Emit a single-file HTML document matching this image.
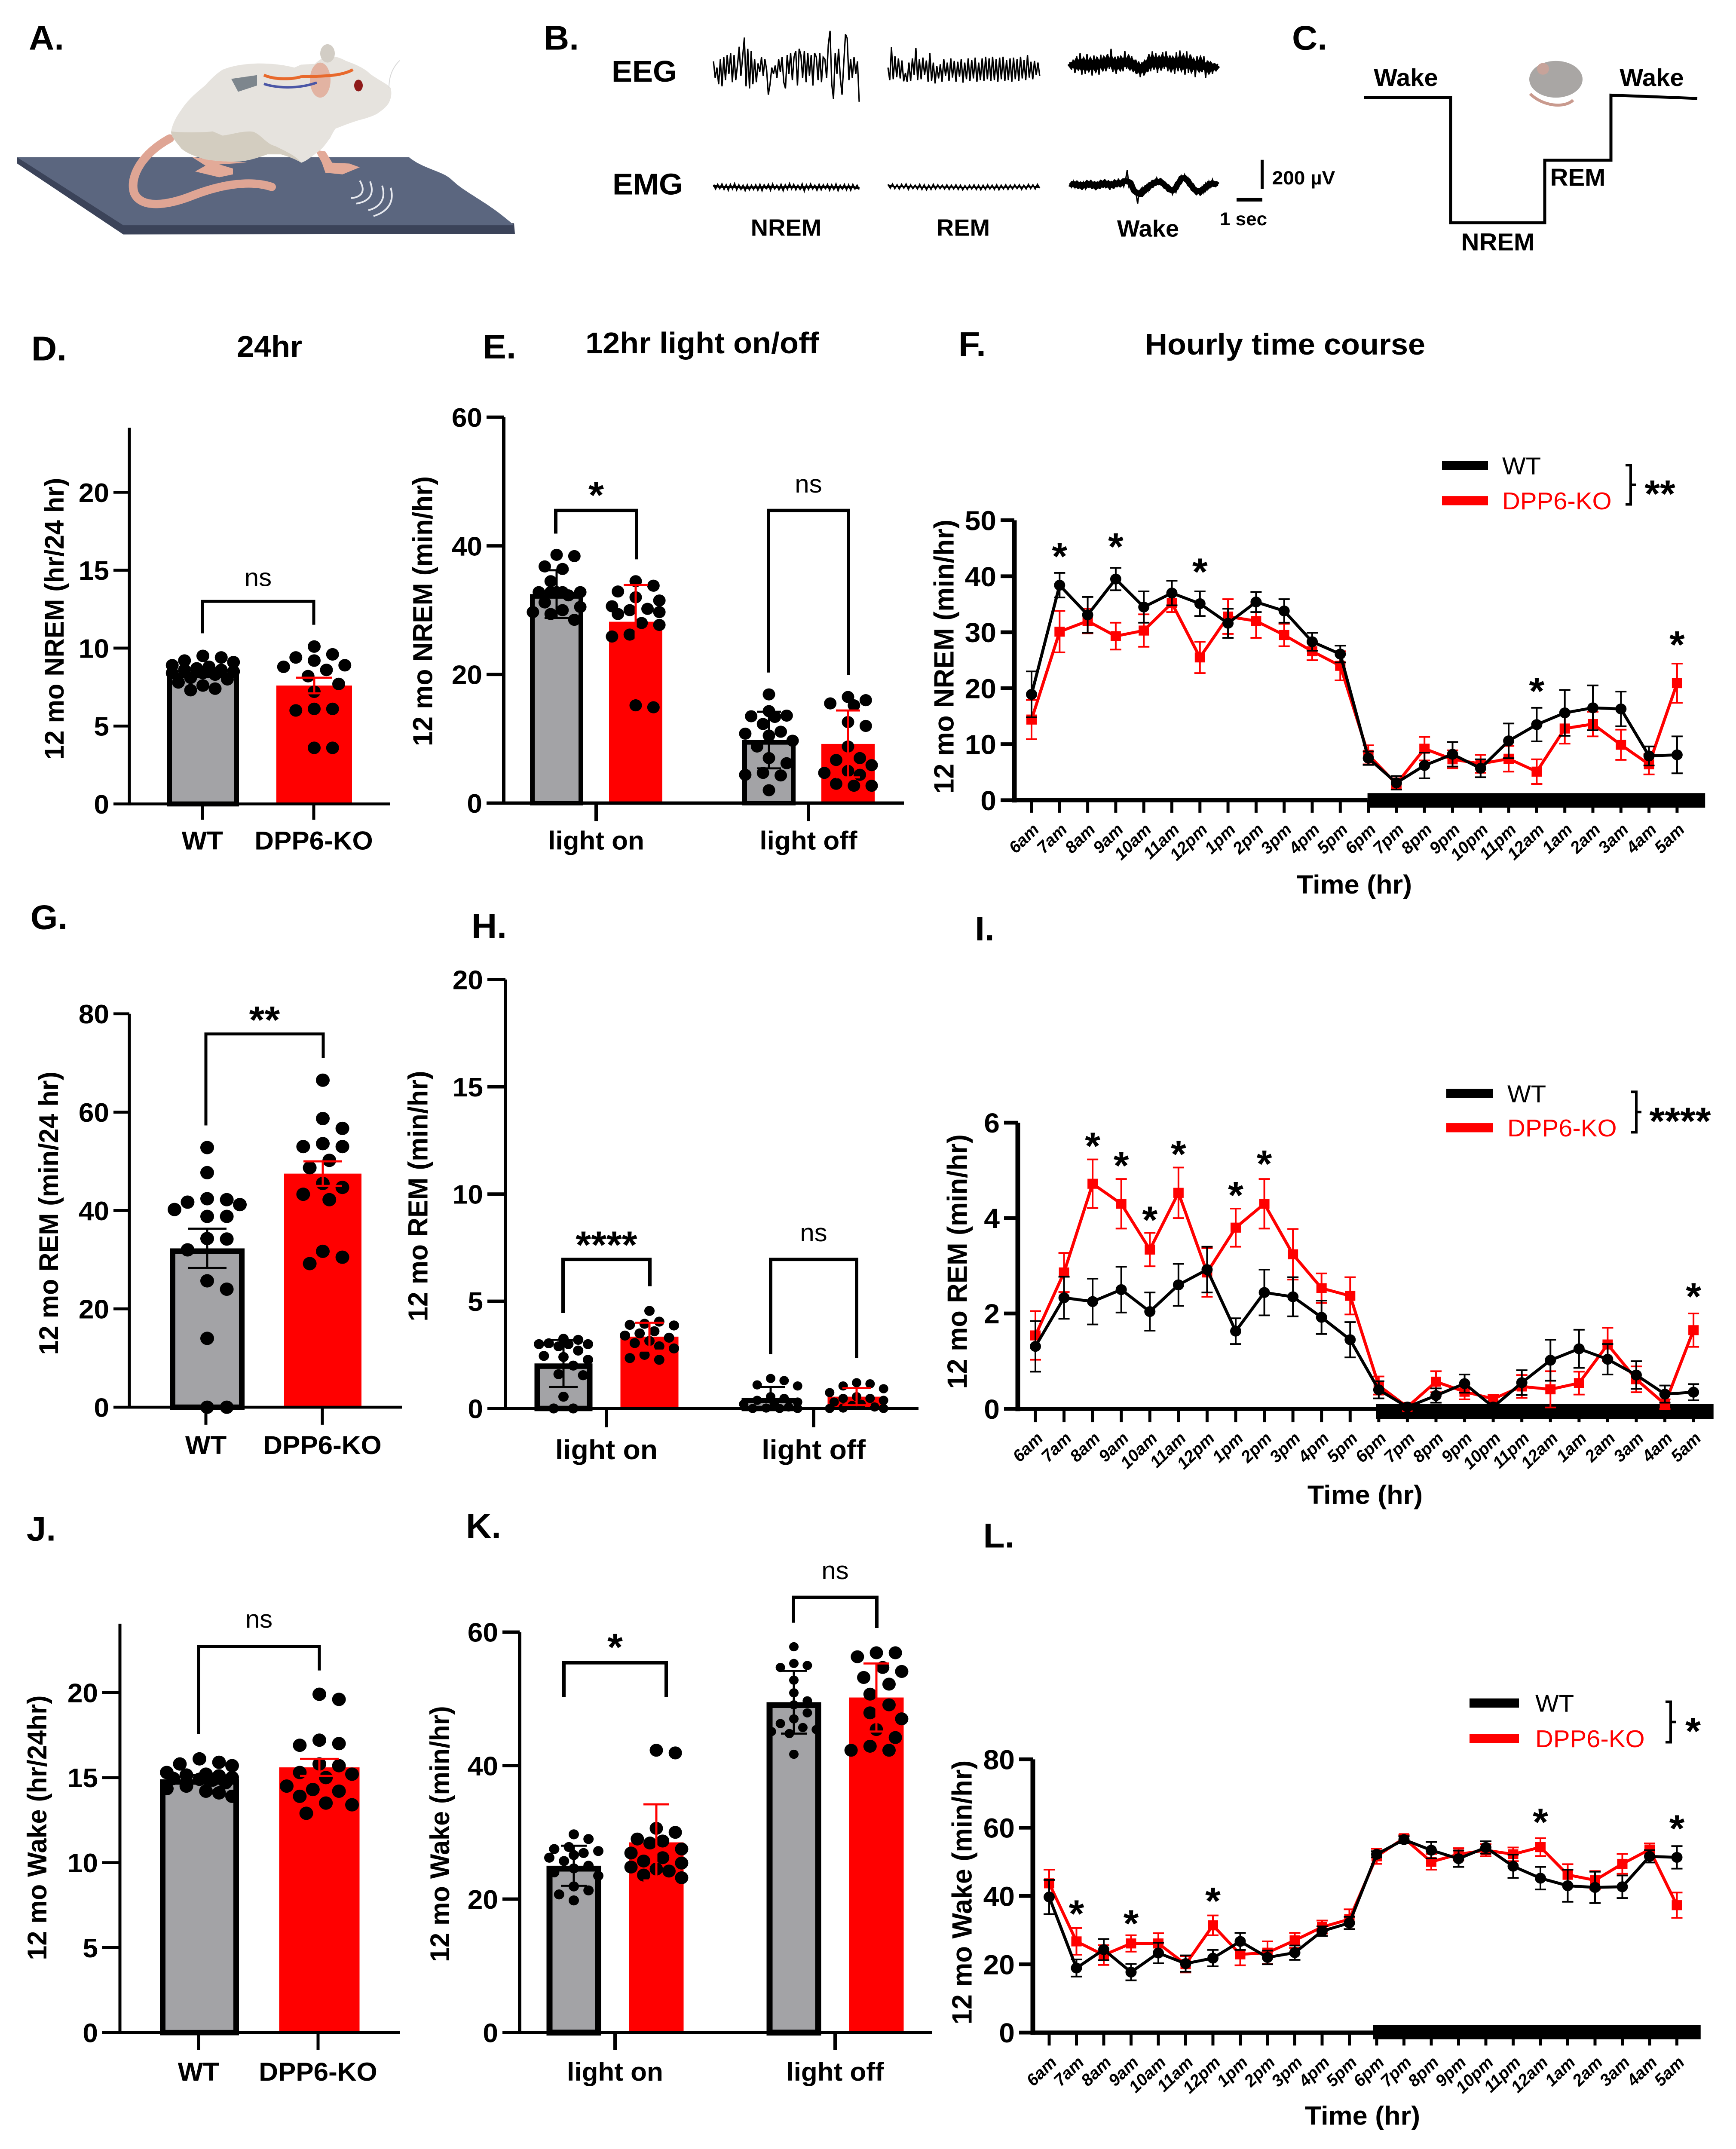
<!DOCTYPE html>
<html lang="en">
<head>
<meta charset="utf-8">
<title>DPP6-KO sleep figure</title>
<style>
html,body{margin:0;padding:0;background:#fff;width:100vw;height:100vh;overflow:hidden;}
#figure{display:block;width:100vw;height:100vh;background:#fff;font-family:"Liberation Sans",sans-serif;}
text{font-family:"Liberation Sans",sans-serif;fill:#000;}
.b{font-weight:bold;}
</style>
</head>
<body>
<svg id="figure" xmlns="http://www.w3.org/2000/svg" viewBox="0 0 4039 5151" preserveAspectRatio="none">
  <rect x="0" y="0" width="4039" height="5151" fill="#fff"/>

  <g font-size="82" font-weight="bold" text-anchor="middle">
    <text class="b" x="108" y="119">A.</text>
    <text class="b" x="1306" y="119">B.</text>
    <text class="b" x="3047" y="119">C.</text>
    <text class="b" x="114" y="864">D.</text>
    <text class="b" x="1162" y="859">E.</text>
    <text class="b" x="2262" y="853">F.</text>
    <text class="b" x="114" y="2227">G.</text>
    <text class="b" x="1138" y="2248">H.</text>
    <text class="b" x="2291" y="2254">I.</text>
    <text class="b" x="96" y="3693">J.</text>
    <text class="b" x="1125" y="3686">K.</text>
    <text class="b" x="2324" y="3709">L.</text>
  </g>

  <g font-size="72" font-weight="bold" text-anchor="middle">
    <text class="b" x="627" y="855">24hr</text>
    <text class="b" x="1634" y="847">12hr light on/off</text>
    <text class="b" x="2990" y="850">Hourly time course</text>
  </g>

  <g>
    <path d="M40 377 L40 392 L287 562 L1198 561 L1196 535 L287 535 Z" fill="#3b4359"/>
    <path d="M40 377 L952 377 C985 405 1030 410 1050 430 C1085 465 1130 480 1196 540 L287 540 Z" fill="#5b667f"/>
    <path d="M395 332 C335 365 300 420 312 462 C328 502 392 492 450 468 C510 444 580 430 632 448" fill="none" stroke="#dfa594" stroke-width="20" stroke-linecap="round"/>
    <path d="M446 376 L478 397 L454 411 L510 425 L542 418 L542 404 L510 394 L574 390 L494 383 Z" fill="#e3aa98"/>
    <path d="M733 359 L749 390 L757 414 L797 418 L837 401 L813 392 L773 390 L757 363 Z" fill="#e3aa98"/>
    <path d="M582 153 C620 150 660 155 685 162 L700 155 L733 153 C760 125 785 135 805 146 C830 155 850 165 861 177 C885 195 900 200 909 211 C912 225 910 235 905 246 C898 258 888 265 877 273 C860 282 845 285 829 290 C805 298 790 305 781 308 C772 320 770 330 765 335 C755 350 748 358 741 363 C725 375 715 385 701 390 C685 380 670 375 654 370 L622 370 C600 378 580 385 558 387 C530 388 500 386 478 382 C455 375 435 368 422 356 C405 335 398 325 398 315 C402 295 410 280 422 263 C440 235 460 220 478 204 C490 190 505 175 518 167 C540 158 560 155 582 153 Z" fill="#e6e3de"/>
    <path d="M398 315 C420 318 470 318 495 315 L518 325 C540 322 570 312 590 316 C610 325 620 345 640 350 C670 365 690 375 701 390 C685 380 670 375 654 370 L622 370 C600 378 580 385 558 387 C530 388 500 386 478 382 C455 375 435 368 422 356 C405 335 398 325 398 315 Z" fill="#d3cdc0"/>
    <ellipse cx="762" cy="128" rx="17" ry="22" fill="#d2cdc5"/>
    <ellipse cx="745" cy="192" rx="24" ry="42" fill="#e2b3a2"/>
    <ellipse cx="834" cy="205" rx="10" ry="14" fill="#8e1a1a"/>
    <polygon points="538,189 598,180 598,205 554,220" fill="#7d868d"/>
    <path d="M614 180 C640 192 680 190 700 184 C740 182 790 185 821 167" fill="none" stroke="#e8692c" stroke-width="7"/>
    <path d="M614 201 C640 210 690 215 737 198" fill="none" stroke="#4a56a6" stroke-width="6"/>
    <path d="M905 210 C905 180 915 160 930 145" fill="none" stroke="#d8d8d8" stroke-width="2"/>
    <path d="M837 433 C850 455 845 472 817 475" fill="none" stroke="#e6e8ee" stroke-width="4"/>
    <path d="M861 435 C872 465 860 483 829 488" fill="none" stroke="#e6e8ee" stroke-width="4"/>
    <path d="M889 445 C900 480 880 498 857 504" fill="none" stroke="#e6e8ee" stroke-width="4"/>
    <path d="M909 450 C920 490 895 510 869 518" fill="none" stroke="#e6e8ee" stroke-width="4"/>
  </g>

  <g id="panel-b">
    <text class="b" x="1499" y="196" font-size="72" text-anchor="middle">EEG</text>
    <text class="b" x="1507" y="466" font-size="72" text-anchor="middle">EMG</text>
    <text class="b" x="1829" y="565" font-size="56" text-anchor="middle">NREM</text>
    <text class="b" x="2241" y="565" font-size="56" text-anchor="middle">REM</text>
    <text class="b" x="2671" y="567" font-size="56" text-anchor="middle">Wake</text>
    <rect x="2933" y="383" width="7" height="70" fill="#000"/>
    <rect x="2877" y="474" width="60" height="9" fill="#000"/>
    <text class="b" x="3033" y="442" font-size="46" text-anchor="middle">200 µV</text>
    <text class="b" x="2893" y="540" font-size="44" text-anchor="middle">1 sec</text>
  </g>

  <g>
    <polyline points="3174,234 3375,234 3375,534 3594,534 3594,384 3748,384 3748,228 3949,236" fill="none" stroke="#000" stroke-width="7"/>
    <text class="b" x="3271" y="206" font-size="58" text-anchor="middle">Wake</text>
    <text class="b" x="3843" y="206" font-size="58" text-anchor="middle">Wake</text>
    <text class="b" x="3671" y="445" font-size="58" text-anchor="middle">REM</text>
    <text class="b" x="3485" y="600" font-size="58" text-anchor="middle">NREM</text>
    <g>
      <path d="M3560 225 C3590 255 3640 260 3660 240" fill="none" stroke="#c99a8e" stroke-width="7"/>
      <ellipse cx="3620" cy="190" rx="62" ry="44" fill="#a9a6a4"/>
      <circle cx="3590" cy="165" r="14" fill="#c7a39a"/>
    </g>
  </g>

  <g id="charts"></g>
</svg>

<script>
/* ---------- Panel B sample amplitudes ---------- */
const eegNremSamples = [-20,20,-5,35,-25,40,-30,25,-35,10,-40,30,-35,25,-10,-55,15,-30,-77,40,-50,45,-45,35,-25,30,-15,5,-30,15,-25,0,60,35,-5,10,-10,20,-25,5,-30,30,45,-35,10,-40,25,-30,-45,38,-50,-35,20,-45,30,-40,15,-35,38,-40,-30,25,-40,30,-30,-25,20,-60,-93,35,70,-40,10,-50,20,60,-15,-85,-75,25,-25,20,-30,10,-20,77];
const eegRemSamples = [-8,22,-57,20,-35,15,-30,18,-25,25,5,26,-20,24,-30,10,-55,22,-28,20,-32,10,-25,26,-43,24,-20,30,-12,18,-16,26,-28,12,-20,24,-30,16,-24,26,-22,14,-28,28,-20,20,-30,24,-26,18,-32,26,-20,22,-30,24,-34,20,-30,24,-34,22,-28,26,-32,20,-34,24,-26,22,-30,26,-32,20,-28,24,-34,18,-26,22,-38,16,-22,20,-24,10,-20,12];
const eegWakeSamples = [-8,10,-14,18,-22,12,-30,22,-16,20,-28,14,-18,24,-24,12,-20,22,-26,10,-18,14,-28,8,-40,16,-14,20,-22,10,-18,14,-35,8,-24,12,-22,16,-14,20,-10,28,-8,24,-12,16,-28,14,-34,10,-30,18,-22,12,-32,8,-34,14,-24,10,-18,20,-32,14,-36,12,-20,22,-34,18,-26,12,-18,28,-22,10,-16,16,-22,30,-12,12,-8,20,-6,14,-4];
const emgNremSamples = [-5,5,-6,4,-7,6,-5,8,-6,5,-8,7,-5,6,-4,9,-5,7,-4,6,-5,8,-6,9,-5,4,-6,8,-7,5,-4,7,-6,9,-5,6,-8,5,-6,7,-4,6,-7,10,-5,6,-7,5,-4,8,-6,7,-5,4,-6,8,-5,6,-7,9,-4,5,-6,7,-5,8,-6,5,-4,6];
const emgRemSamples = [-5,4,-6,5,-4,6,-5,4,-6,7,-4,5,-3,6,-5,7,-4,8,-3,7,-5,6,-4,5,-3,6,-4,7,-3,6,-4,7,-3,8,-2,7,-3,6,-4,7,-3,8,-3,7,-4,6,-3,7,-4,8,-3,6,-4,7,-3,6,-4,5,-4,7,-3,6,-5,5,-4,6,-5,4];
const emgWakeSamples = [-4,5,-8,6,-10,8,-6,12,-5,8,-10,4,-12,9,-4,12,-8,10,-11,6,-14,5,-9,12,-7,9,-12,3,-15,6,-8,4,-10,-35,4,-3,10,2,18,45,12,26,8,20,2,14,-6,8,-12,2,-16,-4,-12,-2,-8,4,8,14,6,22,10,18,-2,-14,-22,-12,-24,-8,-16,-2,4,14,8,22,12,26,6,18,-2,10,-8,4,-12,2,-6,3];

/* ---------- Shared labels ---------- */
const barCategories = ['WT', 'DPP6-KO'];
const lightCategories = ['light on', 'light off'];
const seriesNames = ['WT', 'DPP6-KO'];
const hourLabels = ['6am','7am','8am','9am','10am','11am','12pm','1pm','2pm','3pm','4pm','5pm','6pm','7pm','8pm','9pm','10pm','11pm','12am','1am','2am','3am','4am','5am'];

/* ---------- Panel D ---------- */
const dYTicks = [0,5,10,15,20];
const dMeans = [8.4,7.6];
const dErrors = [0.2,0.5];
const dDotsWT = [9.5,9.4,9.2,9.1,8.9,8.8,8.7,8.6,8.6,8.5,8.4,8.4,8.3,8.1,8.0,7.8,7.6,7.4,7.3];
const dDotsKO = [10.1,9.6,9.4,9.2,8.9,8.8,8.6,8.2,7.7,7.2,6.1,6.1,6.0,3.6,3.6];
const dBracketLevels = [13,10.95,11.5];
const dBracketLabelLevel = 14.4;

/* ---------- Panel E ---------- */
const eYTicks = [0,20,40,60];
const eMeansWT = [32.5,9.8];
const eMeansKO = [28.2,9.2];
const eErrorsWT = [3.7,4.4];
const eErrorsKO = [5.7,5.2];
const eDotsWTOn = [38.6,38.4,36.8,36.4,34.5,32.8,32.8,32.8,32.8,32.8,32.3,31.2,30.5,30,29.7,29.4,28.5];
const eDotsKOOn = [34.5,33.8,32.9,32,31.5,30.6,30.2,30,29.7,29.4,28,27.7,26.2,25.9,15.2,14.9];
const eDotsWTOff = [16.9,14.3,13.6,13.5,13.4,12.3,11.1,10.8,10.5,9.7,8.8,7,6.2,4.7,4.4,4.3,2];
const eDotsKOOff = [16.5,16,15.5,15.2,12.6,12,8.8,7,6.7,5.9,5,4.7,4.4,3,2.7,2.7];
const eBracketLevels = [[45.5,41.9,37.9],[45.5,20.3,19.9]];
const eBracketLabelLevels = [49.3,49.3];

/* ---------- Panel F ---------- */
const fYTicks = [0,10,20,30,40,50];
const fWtMeans = [18.9,38.4,33.1,39.5,34.5,37,35.1,31.6,35.4,33.8,28.3,26.1,7.5,3.1,6.2,8.2,5.7,10.6,13.5,15.6,16.5,16.3,7.9,8.1];
const fWtErrors = [4.1,2.2,3.2,2,2.8,2.2,2.2,2.6,1.8,2.1,1.6,1.5,1.2,1.2,2.3,2.2,1.6,3.1,3,4.1,4,3.1,1.7,3.3];
const fKoMeans = [14.4,30.1,32,29.3,30.3,35.2,25.5,32.8,32,29.5,26.6,24,8.1,2.9,9.2,7.3,6.5,7.4,5.1,12.8,13.6,9.9,6.4,20.9];
const fKoErrors = [3.5,3.7,2.2,2.4,2.9,1.6,2.8,3.1,3,2,1.6,2.6,1.7,1,2.1,1.6,1.6,2.3,2.2,2.7,2.2,2.7,1.8,3.5];
const fStarHours = [1,3,6,18,23];
const fStarLevels = [45.2,46.9,42.4,21.1,29.4];

/* ---------- Panel G ---------- */
const gYTicks = [0,20,40,60,80];
const gMeans = [32.3,47.5];
const gErrors = [4,2.5];
const gDotsWT = [52.8,47.7,42.4,42.2,41.7,41.2,40.2,38.8,38.8,34.3,34.2,32,25.7,24,14,0,0];
const gDotsKO = [66.5,58.7,56.7,53.6,53,53,50.2,48.7,45.5,44.7,43.3,42.2,31.7,30.5,29.2];
const gBracketLevels = [75.9,57.3,71];
const gBracketLabelLevel = 80.6;

/* ---------- Panel H ---------- */
const hYTicks = [0,5,10,15,20];
const hMeansWT = [2.1,0.5];
const hMeansKO = [3.35,0.55];
const hErrorsWT = [1.1,0.5];
const hErrorsKO = [0.65,0.4];
const hDotsWTOn = [3.25,3.2,3.04,3,3,3,2.9,2.7,2.45,2.4,2.27,2,1.6,1.55,0.55,0,0];
const hDotsKOOn = [4.55,4.05,3.95,3.9,3.87,3.6,3.5,3.4,3.3,3.15,3.05,2.9,2.8,2.5,2.35,2.27];
const hDotsWTOff = [1.4,1.3,1.1,1.05,0.55,0.47,0.38,0.3,0.2,0.1,0.07,0.02,0,0,0];
const hDotsKOOff = [1.2,1.15,1.05,0.92,0.74,0.55,0.47,0.47,0.38,0.3,0.2,0.14,0.07,0.02,0,0];
const hBracketLevels = [[6.95,4.45,5.7],[6.95,2.53,2.35]];
const hBracketLabelLevels = [8.05,8.1];

/* ---------- Panel I ---------- */
const iYTicks = [0,2,4,6];
const iWtMeans = [1.31,2.33,2.25,2.5,2.04,2.6,2.92,1.63,2.44,2.35,1.92,1.45,0.4,0.04,0.28,0.53,0.04,0.55,1.02,1.26,1.04,0.71,0.31,0.35];
const iWtErrors = [0.53,0.44,0.48,0.48,0.4,0.44,0.48,0.27,0.48,0.41,0.35,0.37,0.18,0.05,0.15,0.19,0.05,0.26,0.43,0.4,0.32,0.29,0.18,0.17];
const iKoMeans = [1.54,2.86,4.72,4.3,3.34,4.53,2.86,3.8,4.3,3.24,2.53,2.37,0.49,0.04,0.57,0.36,0.21,0.47,0.41,0.54,1.35,0.62,0.1,1.65];
const iKoErrors = [0.51,0.41,0.51,0.52,0.35,0.53,0.51,0.4,0.52,0.53,0.31,0.39,0.19,0.05,0.22,0.16,0.08,0.24,0.38,0.24,0.35,0.27,0.1,0.35];
const iStarHours = [2,3,4,5,7,8,23];
const iStarLevels = [5.7,5.29,4.15,5.53,4.67,5.33,2.55];

/* ---------- Panel J ---------- */
const jYTicks = [0,5,10,15,20];
const jMeans = [14.9,15.6];
const jErrors = [0.25,0.5];
const jDotsWT = [16.1,15.9,15.8,15.7,15.3,15.2,15.15,15.1,15,14.95,14.9,14.85,14.7,14.5,14.35,14.2,14.1,13.9];
const jDotsKO = [19.9,19.6,17.2,17,16.9,15.8,15.7,15.3,15.2,15,14.5,14.3,14.2,13.9,13.5,13.4,12.9];
const jBracketLevels = [22.7,17.55,21.3];
const jBracketLabelLevel = 24.2;

/* ---------- Panel K ---------- */
const kYTicks = [0,20,40,60];
const kMeansWT = [25,49.5];
const kMeansKO = [28.5,50.2];
const kErrorsWT = [3,4.7];
const kErrorsKO = [5.7,5.1];
const kDotsWTOn = [29.7,29,27.8,27.5,27.2,26.9,26.6,26.2,25.7,25,24.6,24,23.5,21.9,21.3,20.7,19.8];
const kDotsKOOn = [42.3,41.9,30.6,30,29,28.7,28.4,27.5,26.9,26.2,25.7,25.4,24.8,24.5,24.2,23.6,23.2];
const kDotsWTOff = [57.8,55.3,55,54.7,52.8,50.9,49.7,49.1,47.9,47,46.3,45.7,45.4,45.1,44.8,41.7];
const kDotsKOOff = [56.9,56.9,56.3,54.7,54.1,53.2,52.2,50.7,49.1,47.9,47,45.4,44.2,42.9,42.3,42.3];
const kBracketLevels = [[55.4,50.3,50.3],[65.2,61.4,60.6]];
const kBracketLabelLevels = [59.1,68.9];

/* ---------- Panel L ---------- */
const lYTicks = [0,20,40,60,80];
const lWtMeans = [39.7,18.9,24.3,17.7,23.3,20.2,21.8,26.7,22,23.4,29.7,32.1,52.2,56.5,53.4,50.9,54.2,48.7,45.2,43,42.5,42.7,51.6,51.3];
const lWtErrors = [5,2.5,3.1,2.4,3,2.4,2.4,2.5,2,2.1,1.4,1.8,0.9,1,2.4,2.4,1.8,3.4,3.3,4.7,4.6,3.3,1.8,3.3];
const lKoMeans = [43.7,26.7,22.7,26.1,26.1,20,31.4,22.9,23.4,27,30.9,33.2,51.6,56.9,50,52.2,53.4,52.2,54.3,46.2,44.6,49.4,53.6,37.3];
const lKoErrors = [4,3.9,2.9,2.4,3,2.4,2.9,3.2,3.3,2.2,1.9,2.9,2.2,0.9,2.3,1.8,1.8,2,2.6,3.1,2.7,2.9,1.8,3.7];
const lStarHours = [1,3,6,18,23];
const lStarLevels = [37.5,34.6,41.2,64.3,62.4];

/* ---------- Helpers ---------- */
const NS = 'http://www.w3.org/2000/svg';
const chartsRoot = document.getElementById('charts');
const GRAY = '#a3a3a6';
const RED = '#ff0000';

function mk(parent, tag, attrs, text) {
  const node = document.createElementNS(NS, tag);
  for (const k in attrs) node.setAttribute(k, attrs[k]);
  if (text !== undefined) node.textContent = text;
  parent.appendChild(node);
  return node;
}

function linearAxis(zeroPx, refPx, refValue) {
  const perUnit = (zeroPx - refPx) / refValue;
  return function (v) { return zeroPx - v * perUnit; };
}

function centeredText(parent, name, x, yCenter, str, size, bold, color, anchor) {
  const t = mk(parent, 'text', {x: x, y: yCenter + size * 0.36, 'font-size': size, 'text-anchor': anchor || 'middle', 'font-weight': bold ? 'bold' : 'normal', style: 'fill:' + (color || '#000')}, str);
  
  
  return t;
}

function starText(parent, name, x, yCenter, str, size) {
  const t = mk(parent, 'text', {x: x, y: yCenter + size * 0.58, 'font-size': size, 'text-anchor': 'middle', 'font-weight': 'bold'}, str);
  
  
  return t;
}

function yAxisTitle(parent, x, yCenter, str, size) {
  const t = mk(parent, 'text', {x: x, y: yCenter, 'font-size': size, 'font-weight': 'bold', 'text-anchor': 'middle', transform: 'rotate(-90 ' + x + ' ' + yCenter + ')', 'dominant-baseline': 'central'}, str);
  
  
}

function drawYAxis(parent, o) {
  const axis = mk(parent, 'line', {x1: o.axisX, x2: o.axisX, y1: o.y(o.axisTop), y2: o.y(0) + o.lw / 2, stroke: '#000', 'stroke-width': o.lw});
  
  
  o.ticks.forEach(function (v) {
    const tick = mk(parent, 'line', {x1: o.tickLeft, x2: o.axisX, y1: o.y(v), y2: o.y(v), stroke: '#000', 'stroke-width': o.tlw});
    
    
    centeredText(parent, 'y-tick-label-' + v, o.tickLeft - 10, o.y(v), String(v), o.fs, true, '#000', 'end');
  });
}

function swarm(values, y, r, maxOff, spread) {
  const order = values.map(function (v, i) { return i; }).sort(function (a, b) { return values[b] - values[a]; });
  const placed = [];
  const result = new Array(values.length);
  order.forEach(function (idx) {
    const py = y(values[idx]);
    let best = 0, bestScore = -1;
    for (let k = 0; k < 40; k++) {
      const mag = Math.ceil(k / 2) * r * 0.95;
      const off = (k % 2 ? 1 : -1) * mag;
      if (Math.abs(off) > maxOff) continue;
      let minD = 1e9;
      placed.forEach(function (p) { minD = Math.min(minD, Math.hypot(off - p.x, py - p.y)); });
      if (minD >= 2 * r * spread) { best = off; bestScore = 1e9; break; }
      if (minD > bestScore) { bestScore = minD; best = off; }
    }
    placed.push({x: best, y: py});
    result[idx] = best;
  });
  return result;
}

function drawBar(parent, o) {
  const g = mk(parent, 'g', {});
  
  
  const top = o.y(o.mean), bottom = o.y(0);
  const sw = o.outline ? o.sw : 0;
  const rect = mk(g, 'rect', {x: o.cx - o.w / 2 + sw / 2, y: top + sw / 2, width: o.w - sw, height: bottom - top - sw / 2, fill: o.outline ? GRAY : RED, stroke: o.outline ? '#000' : 'none', 'stroke-width': sw});
  
  
  const offs = swarm(o.dots, o.y, o.r, o.w / 2 - o.r * 0.2, 1.3);
  o.dots.forEach(function (v, i) {
    const c = mk(g, 'circle', {cx: o.cx + offs[i], cy: o.y(v), r: o.r, fill: '#000'});
    
    
  });
  const col = o.outline ? '#000' : RED;
  const ep = 'M' + o.cx + ' ' + o.y(o.mean + o.err) + 'V' + o.y(o.mean - o.err) + 'M' + (o.cx - o.cap) + ' ' + o.y(o.mean + o.err) + 'H' + (o.cx + o.cap) + 'M' + (o.cx - o.cap) + ' ' + o.y(o.mean - o.err) + 'H' + (o.cx + o.cap);
  const err = mk(g, 'path', {d: ep, fill: 'none', stroke: col, 'stroke-width': o.capw});
  
  
}

function drawBracket(parent, name, xL, xR, levels, y, label, labelLevel, lw, isStar) {
  const p = mk(parent, 'path', {d: 'M' + xL + ' ' + y(levels[1]) + 'V' + y(levels[0]) + 'H' + xR + 'V' + y(levels[2]), fill: 'none', stroke: '#000', 'stroke-width': lw});
  
  
  const mid = (xL + xR) / 2;
  if (isStar) starText(parent, name + '-label', mid, y(labelLevel), label, 92);
  else centeredText(parent, name + '-label', mid, y(labelLevel) - 6, label, 60, false);
}

function drawSimpleBars(o) {
  const g = mk(chartsRoot, 'g', {});
  
  
  const xAt = function (i) { return o.x0 + i * o.step; };
  yAxisTitle(g, o.titleX, o.titleY, o.title, o.titleFs);
  drawYAxis(g, o);
  const colors = [true, false];
  o.means.forEach(function (m, i) {
    drawBar(g, {name: o.name + '-bar-' + (i ? 'ko' : 'wt'), y: o.y, cx: o.barX[i], w: o.barW[i], mean: m, err: o.errors[i], dots: o.dots[i], outline: colors[i], sw: o.sw, r: o.r, cap: o.cap, capw: o.capw});
  });
  const xa = mk(g, 'line', {x1: o.axisX, x2: o.axisEnd, y1: o.y(0), y2: o.y(0), stroke: '#000', 'stroke-width': o.lw});
  
  
  o.categories.forEach(function (c, i) {
    const tk = mk(g, 'line', {x1: xAt(i), x2: xAt(i), y1: o.y(0), y2: o.tickBottom, stroke: '#000', 'stroke-width': o.tlw});
    
    
    centeredText(g, 'x-tick-label', xAt(i), o.labelY, c, o.fsX, true);
  });
  drawBracket(g, 'significance-bracket', xAt(0), xAt(1) + o.bracketShift, o.bracket, o.y, o.sig, o.sigLevel, o.lw, o.sig !== 'ns');
}

function drawGroupedBars(o) {
  const g = mk(chartsRoot, 'g', {});
  
  
  const xAt = function (i) { return o.x0 + i * o.step; };
  yAxisTitle(g, o.titleX, o.titleY, o.title, o.titleFs);
  drawYAxis(g, o);
  o.categories.forEach(function (c, i) {
    const slug = i ? 'light-off' : 'light-on';
    drawBar(g, {name: o.name + '-' + slug + '-wt', y: o.y, cx: xAt(i) - o.off, w: o.barW, mean: o.meansWT[i], err: o.errWT[i], dots: o.dotsWT[i], outline: true, sw: o.sw, r: o.rWT[i], cap: o.cap, capw: o.capw});
    drawBar(g, {name: o.name + '-' + slug + '-ko', y: o.y, cx: xAt(i) + o.off, w: o.barW, mean: o.meansKO[i], err: o.errKO[i], dots: o.dotsKO[i], outline: false, sw: o.sw, r: o.rKO[i], cap: o.cap, capw: o.capw});
  });
  const xa = mk(g, 'line', {x1: o.axisX, x2: o.axisEnd, y1: o.y(0), y2: o.y(0), stroke: '#000', 'stroke-width': o.lw});
  
  
  o.categories.forEach(function (c, i) {
    const tk = mk(g, 'line', {x1: xAt(i), x2: xAt(i), y1: o.y(0), y2: o.tickBottom, stroke: '#000', 'stroke-width': o.tlw});
    
    
    centeredText(g, 'x-tick-label', xAt(i), o.labelY, c, o.fsX, true);
    drawBracket(g, 'significance-bracket-' + i, xAt(i) - o.bracketOff[i], xAt(i) + o.bracketOff[i], o.brackets[i], o.y, o.sigs[i], o.sigLevels[i], o.lw, o.sigs[i] !== 'ns');
  });
}

function drawSeries(g, name, x, y, means, errs, color, square, o) {
  const s = mk(g, 'g', {});
  
  
  const pts = means.map(function (m, i) { return x(i) + ',' + y(m); }).join(' ');
  const line = mk(s, 'polyline', {points: pts, fill: 'none', stroke: color, 'stroke-width': o.seriesW, 'stroke-linejoin': 'round'});
  
  
  means.forEach(function (m, i) {
    const hi = y(m + errs[i]), lo = y(Math.max(m - errs[i], 0));
    const xi = x(i);
    const e = mk(s, 'path', {d: 'M' + xi + ' ' + hi + 'V' + lo + 'M' + (xi - 13) + ' ' + hi + 'H' + (xi + 13) + 'M' + (xi - 13) + ' ' + lo + 'H' + (xi + 13), fill: 'none', stroke: color, 'stroke-width': 4});
    
    
    if (square) {
      const r = mk(s, 'rect', {x: xi - 12, y: y(m) - 12, width: 24, height: 24, fill: color});
      
      
    } else {
      const c = mk(s, 'circle', {cx: xi, cy: y(m), r: 13, fill: color});
      
      
    }
  });
}

function drawTimeCourse(o) {
  const g = mk(chartsRoot, 'g', {});
  
  
  const x = function (i) { return o.x0 + i * o.step; };
  yAxisTitle(g, o.titleX, o.titleY, o.title, o.titleFs);
  drawYAxis(g, {axisX: o.axisX, axisTop: o.axisTop, y: o.y, lw: 11, tlw: 9, ticks: o.ticks, tickLeft: o.axisX - 32, fs: 66});
  const xa = mk(g, 'line', {x1: o.axisX, x2: x(o.darkFrom), y1: o.y(0), y2: o.y(0), stroke: '#000', 'stroke-width': 10});
  
  
  const dark = mk(g, 'rect', {x: x(o.darkFrom), y: o.darkTop, width: x(o.darkTo) - x(o.darkFrom), height: o.darkH, fill: '#000'});
  
  
  o.hours.forEach(function (h, i) {
    const tk = mk(g, 'line', {x1: x(i), x2: x(i), y1: o.y(0), y2: o.tickBottom, stroke: '#000', 'stroke-width': 7});
    
    
    const lx = x(i) + 20, ly = o.labelTop + 18;
    const t = mk(g, 'text', {x: lx, y: ly, 'font-size': 40, 'font-weight': 'bold', 'font-style': 'italic', 'text-anchor': 'end', transform: 'rotate(-45 ' + lx + ' ' + ly + ')'}, h);
    
    
  });
  drawSeries(g, 'series-dpp6-ko', x, o.y, o.koM, o.koE, RED, true, o);
  drawSeries(g, 'series-wt', x, o.y, o.wtM, o.wtE, '#000', false, o);
  o.starHours.forEach(function (h, i) {
    starText(g, 'significance-star-' + o.hours[h], x(h), o.y(o.starLevels[i]), '*', 92);
  });
  centeredText(g, 'x-axis-title', o.timeX, o.timeY, 'Time (hr)', 63, true);
  const lg = mk(g, 'g', {});
  
  
  seriesNames.forEach(function (n, i) {
    const col = i ? RED : '#000';
    const ly = i ? o.legY2 : o.legY1;
    const sw = mk(lg, 'rect', {x: o.legX, y: ly - 11, width: o.legW, height: 22, fill: col});
    
    
    centeredText(lg, i ? 'legend-label-ko' : 'legend-label-wt', o.legTextX, ly, n, 58, false, col, 'start');
  });
  const b = mk(lg, 'path', {d: 'M' + (o.brX - 12) + ' ' + o.brTop + 'H' + o.brX + 'V' + o.brBot + 'H' + (o.brX - 12) + 'M' + o.brX + ' ' + ((o.brTop + o.brBot) / 2) + 'H' + (o.brX + 12), fill: 'none', stroke: '#000', 'stroke-width': 6});
  
  
  starText(lg, 'legend-significance', o.brStarX, (o.brTop + o.brBot) / 2, o.brStar, 92);
}

/* ---------- Panel B traces ---------- */
function drawTrace(name, samples, x0, x1, mid, coreWidth) {
  const step = (x1 - x0) / (samples.length - 1);
  const pts = samples.map(function (v, i) {
    return (x0 + i * step).toFixed(1) + ',' + (mid + v).toFixed(1);
  }).join(' ');
  const traceGroup = document.getElementById('panel-b');
  const p = mk(traceGroup, 'polyline', {points: pts, fill: 'none', stroke: '#000', 'stroke-width': 3.2});
  
  
  if (coreWidth > 0) {
    const corePts = samples.map(function (v, i) {
      const a = samples[Math.max(i - 2, 0)], b = samples[Math.max(i - 1, 0)], c = samples[Math.min(i + 1, samples.length - 1)], d = samples[Math.min(i + 2, samples.length - 1)];
      return (x0 + i * step).toFixed(1) + ',' + (mid + (a + b + v + c + d) / 5).toFixed(1);
    }).join(' ');
    const core = mk(traceGroup, 'polyline', {points: corePts, fill: 'none', stroke: '#000', 'stroke-width': coreWidth});
    
    
  }
}
drawTrace('eeg-trace-nrem', eegNremSamples, 1660, 1999, 167, 0);
drawTrace('eeg-trace-rem', eegRemSamples, 2066, 2419, 170, 0);
drawTrace('eeg-trace-wake', eegWakeSamples, 2489, 2833, 157, 14);
drawTrace('emg-trace-nrem', emgNremSamples, 1660, 1999, 448, 6);
drawTrace('emg-trace-rem', emgRemSamples, 2066, 2419, 447, 4);
drawTrace('emg-trace-wake', emgWakeSamples, 2489, 2833, 443, 14);

/* ---------- Draw panels ---------- */
const yD = linearAxis(1927, 1180, 20);
drawSimpleBars({name: 'panel-d', y: yD, axisX: 301, axisTop: 24.15, lw: 7, tlw: 7, ticks: dYTicks, tickLeft: 264, fs: 64, axisEnd: 908,
  x0: 471, step: 259, barX: [472, 731], barW: [168, 176], means: dMeans, errors: dErrors, dots: [dDotsWT, dDotsKO], sw: 12, r: 15, cap: 42, capw: 5,
  categories: barCategories, tickBottom: 1965, labelY: 2014, fsX: 62, bracket: dBracketLevels, bracketShift: 0, sig: 'ns', sigLevel: dBracketLabelLevel,
  title: '12 mo NREM (hr/24 hr)', titleX: 127, titleY: 1483, titleFs: 63});

const yE = linearAxis(1925, 1000, 60);
drawGroupedBars({name: 'panel-e', y: yE, axisX: 1172, axisTop: 60, lw: 8, tlw: 8, ticks: eYTicks, tickLeft: 1132, fs: 64, axisEnd: 2103,
  x0: 1387, step: 494, off: 92, barW: 124, meansWT: eMeansWT, meansKO: eMeansKO, errWT: eErrorsWT, errKO: eErrorsKO,
  dotsWT: [eDotsWTOn, eDotsWTOff], dotsKO: [eDotsKOOn, eDotsKOOff], sw: 11, rWT: [14.5, 14.5], rKO: [14.5, 14.5], cap: 28, capw: 5,
  categories: lightCategories, tickBottom: 1968, labelY: 2014, fsX: 62, brackets: eBracketLevels, bracketOff: [94, 93], sigs: ['*', 'ns'], sigLevels: eBracketLabelLevels,
  title: '12 mo NREM (min/hr)', titleX: 984, titleY: 1465, titleFs: 64});

const yG = linearAxis(3373, 2430, 80);
drawSimpleBars({name: 'panel-g', y: yG, axisX: 301, axisTop: 80, lw: 7, tlw: 7, ticks: gYTicks, tickLeft: 264, fs: 64, axisEnd: 935,
  x0: 479, step: 271, barX: [482, 751], barW: [174, 180], means: gMeans, errors: gErrors, dots: [gDotsWT, gDotsKO], sw: 13, r: 16, cap: 45, capw: 5,
  categories: barCategories, tickBottom: 3415, labelY: 3463, fsX: 62, bracket: gBracketLevels, bracketShift: 2, sig: '**', sigLevel: gBracketLabelLevel,
  title: '12 mo REM (min/24 hr)', titleX: 114, titleY: 2908, titleFs: 63});

const yH = linearAxis(3376, 2348, 20);
drawGroupedBars({name: 'panel-h', y: yH, axisX: 1176, axisTop: 20, lw: 8, tlw: 8, ticks: hYTicks, tickLeft: 1134, fs: 64, axisEnd: 2137,
  x0: 1411, step: 482, off: 100, barW: 135, meansWT: hMeansWT, meansKO: hMeansKO, errWT: hErrorsWT, errKO: hErrorsKO,
  dotsWT: [hDotsWTOn, hDotsWTOff], dotsKO: [hDotsKOOn, hDotsKOOff], sw: 13, rWT: [12, 11], rKO: [12, 11], cap: 33, capw: 5,
  categories: lightCategories, tickBottom: 3421, labelY: 3474, fsX: 66, brackets: hBracketLevels, bracketOff: [101, 100], sigs: ['****', 'ns'], sigLevels: hBracketLabelLevels,
  title: '12 mo REM (min/hr)', titleX: 973, titleY: 2867, titleFs: 64});

const yJ = linearAxis(4872, 4057, 20);
drawSimpleBars({name: 'panel-j', y: yJ, axisX: 279, axisTop: 24.05, lw: 7, tlw: 7, ticks: jYTicks, tickLeft: 238, fs: 64, axisEnd: 931,
  x0: 462, step: 278, barX: [464, 743], barW: [184, 187], means: jMeans, errors: jErrors, dots: [jDotsWT, jDotsKO], sw: 13, r: 16, cap: 45, capw: 5,
  categories: barCategories, tickBottom: 4914, labelY: 4965, fsX: 62, bracket: jBracketLevels, bracketShift: 3, sig: 'ns', sigLevel: jBracketLabelLevel,
  title: '12 mo Wake (hr/24hr)', titleX: 87, titleY: 4381, titleFs: 63});

const yK = linearAxis(4872, 3912, 60);
drawGroupedBars({name: 'panel-k', y: yK, axisX: 1209, axisTop: 60, lw: 8, tlw: 8, ticks: kYTicks, tickLeft: 1169, fs: 64, axisEnd: 2169,
  x0: 1431, step: 512, off: 96, barW: 127, meansWT: kMeansWT, meansKO: kMeansKO, errWT: kErrorsWT, errKO: kErrorsKO,
  dotsWT: [kDotsWTOn, kDotsWTOff], dotsKO: [kDotsKOOn, kDotsKOOff], sw: 14, rWT: [12, 11], rKO: [15.5, 15.5], cap: 30, capw: 5,
  categories: lightCategories, tickBottom: 4914, labelY: 4965, fsX: 62, brackets: kBracketLevels, bracketOff: [119, 97], sigs: ['*', 'ns'], sigLevels: kBracketLabelLevels,
  title: '12 mo Wake (min/hr)', titleX: 1024, titleY: 4396, titleFs: 63});

const yF = linearAxis(1918, 1247, 50);
drawTimeCourse({name: 'panel-f', y: yF, axisX: 2360, axisTop: 50, ticks: fYTicks, x0: 2400, step: 65.3, hours: hourLabels, wtM: fWtMeans, wtE: fWtErrors, koM: fKoMeans, koE: fKoErrors, seriesW: 7,
  darkFrom: 11.97, darkTo: 24, darkTop: 1901, darkH: 35, tickBottom: 1948, labelTop: 1973, starHours: fStarHours, starLevels: fStarLevels,
  timeX: 3151, timeY: 2119, title: '12 mo NREM (min/hr)', titleX: 2196, titleY: 1574, titleFs: 65,
  legX: 3355, legW: 107, legY1: 1116, legY2: 1200, legTextX: 3495, brX: 3794, brTop: 1115, brBot: 1209, brStar: '**', brStarX: 3862});

const yI = linearAxis(3377, 2691, 6);
drawTimeCourse({name: 'panel-i', y: yI, axisX: 2368, axisTop: 6, ticks: iYTicks, x0: 2409, step: 66.57, hours: hourLabels, wtM: iWtMeans, wtE: iWtErrors, koM: iKoMeans, koE: iKoErrors, seriesW: 7,
  darkFrom: 11.9, darkTo: 23.7, darkTop: 3365, darkH: 36, tickBottom: 3409, labelTop: 3432, starHours: iStarHours, starLevels: iStarLevels,
  timeX: 3176, timeY: 3582, title: '12 mo REM (min/hr)', titleX: 2227, titleY: 3024, titleFs: 65,
  legX: 3365, legW: 108, legY1: 2621, legY2: 2703, legTextX: 3507, brX: 3807, brTop: 2617, brBot: 2714, brStar: '****', brStarX: 3909});

const yL = linearAxis(4872, 4217, 80);
drawTimeCourse({name: 'panel-l', y: yL, axisX: 2403, axisTop: 80, ticks: lYTicks, x0: 2441, step: 63.5, hours: hourLabels, wtM: lWtMeans, wtE: lWtErrors, koM: lKoMeans, koE: lKoErrors, seriesW: 7,
  darkFrom: 11.86, darkTo: 23.87, darkTop: 4854, darkH: 34, tickBottom: 4903, labelTop: 4928, starHours: lStarHours, starLevels: lStarLevels,
  timeX: 3170, timeY: 5070, title: '12 mo Wake (min/hr)', titleX: 2238, titleY: 4536, titleFs: 65,
  legX: 3419, legW: 115, legY1: 4082, legY2: 4167, legTextX: 3572, brX: 3887, brTop: 4079, brBot: 4176, brStar: '*', brStarX: 3939});
</script>
</body>
</html>
